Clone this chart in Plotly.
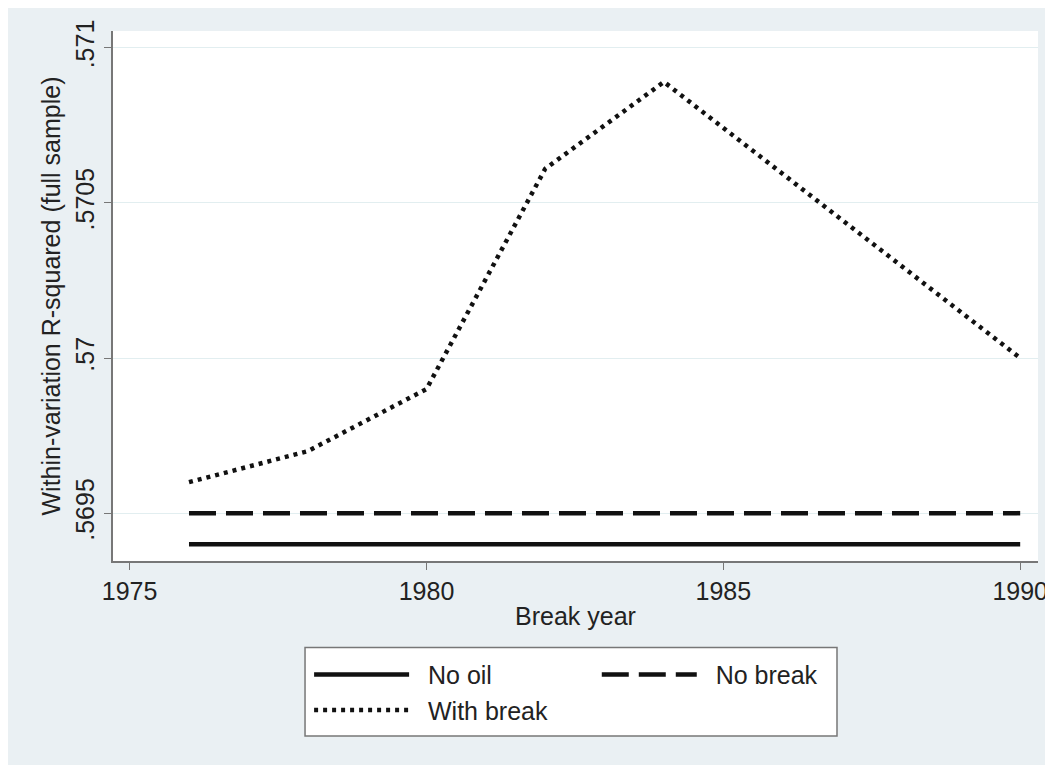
import plotly.graph_objects as go

# Data
years_break = [1976, 1978, 1980, 1982, 1984, 1990]
with_break = [0.56960, 0.56970, 0.56990, 0.57061, 0.57089, 0.57000]

years_flat = [1976, 1990]
no_oil = [0.56940, 0.56940]
no_break = [0.56950, 0.56950]

series_names = ["No oil", "No break", "With break"]

y_ticks = [0.5695, 0.5700, 0.5705, 0.5710]
y_ticktext = [".5695", ".57", ".5705", ".571"]
x_ticks = [1975, 1980, 1985, 1990]

BG = "#EAF0F3"
FONT = "Liberation Sans, Arial, sans-serif"
FS = 25
PAD = "\u00a0\u00a0"

fig = go.Figure()
fig.add_trace(go.Scatter(x=years_flat, y=no_oil, mode="lines", name=PAD + series_names[0],
                         legend="legend",
                         line=dict(color="#111111", width=4.5)))
fig.add_trace(go.Scatter(x=years_flat, y=no_break, mode="lines", name=PAD + series_names[1],
                         legend="legend2",
                         line=dict(color="#111111", width=4.5, dash="27px,10px")))
fig.add_trace(go.Scatter(x=years_break, y=with_break, mode="lines", name=PAD + series_names[2],
                         legend="legend",
                         line=dict(color="#111111", width=4.5, dash="4px,5px")))

leg_common = dict(orientation="v", yanchor="top", xanchor="left",
                  bgcolor="rgba(0,0,0,0)", borderwidth=0,
                  itemwidth=95, tracegroupgap=0,
                  font=dict(size=FS, family=FONT, color="#222222"))

fig.update_layout(
    width=1053, height=765,
    paper_bgcolor=BG, plot_bgcolor="white",
    margin=dict(l=105, r=23, t=20, b=212),
    font=dict(family=FONT, size=FS, color="#222222"),
    showlegend=True,
    legend=dict(x=0.212, y=-0.171, **leg_common),
    legend2=dict(x=0.523, y=-0.171, **leg_common),
    shapes=[dict(type="rect", xref="paper", yref="paper",
                 x0=0.2076, x1=0.7827, y0=-0.3302, y1=-0.1632,
                 line=dict(color="#777777", width=1.5), fillcolor="white",
                 layer="below")],
    xaxis=dict(
        range=[1974.72, 1990.3], tickvals=x_ticks, ticks="outside", ticklen=7,
        tickcolor="#777777", showline=True, linecolor="#777777", linewidth=1.5,
        showgrid=False, zeroline=False,
        title=dict(text="Break year", standoff=4, font=dict(size=FS)),
        tickfont=dict(size=FS),
    ),
    yaxis=dict(
        range=[0.569346, 0.571054], tickvals=y_ticks, ticktext=y_ticktext,
        tickangle=-90, ticks="outside", ticklen=7, tickcolor="#777777",
        showline=True, linecolor="#777777", linewidth=1.5,
        showgrid=True, gridcolor="#E2EEF0", gridwidth=1, zeroline=False,
        title=dict(text="Within-variation R-squared (full sample)", standoff=4,
                   font=dict(size=FS)),
        tickfont=dict(size=FS),
    ),
)

fig.write_html("out.html")
